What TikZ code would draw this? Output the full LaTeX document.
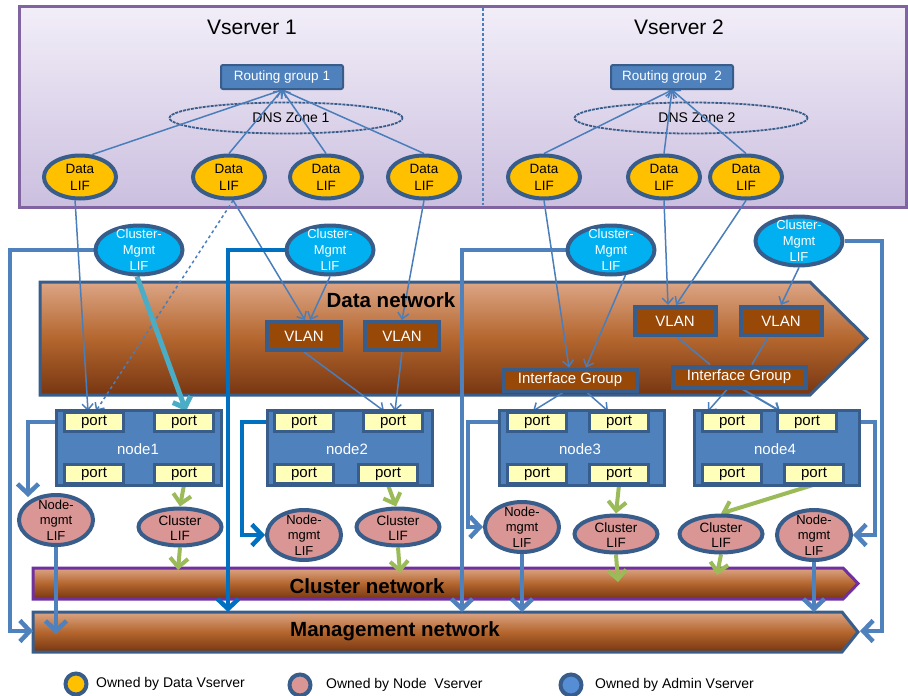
\documentclass[tikz,border=0pt]{standalone}
\usepackage{fontspec}
\setmainfont{Liberation Sans}
\usetikzlibrary{arrows.meta,shapes.geometric,calc}
\definecolor{bord}{HTML}{385D8A}
\definecolor{rgblue}{HTML}{4F81BD}
\definecolor{lny}{HTML}{4A7EBB}
\definecolor{dkblue}{HTML}{0070C0}
\definecolor{lifyel}{HTML}{FFC000}
\definecolor{cmcyan}{HTML}{00B0F0}
\definecolor{pinkc}{HTML}{D99694}
\definecolor{portyel}{HTML}{FFFFB9}
\definecolor{brownbox}{HTML}{984807}
\definecolor{cyanarr}{HTML}{4BACC6}
\definecolor{greenarr}{HTML}{9BBB59}
\definecolor{vsborder}{HTML}{8064A2}
\definecolor{vstop}{HTML}{F2EEF8}
\definecolor{vsbot}{HTML}{CBBFDF}
\definecolor{brtop}{HTML}{DCA585}
\definecolor{brmid}{HTML}{B4662E}
\definecolor{brbot}{HTML}{773611}
\definecolor{clpurple}{HTML}{7030A0}
\definecolor{legblue}{HTML}{558ED5}
\pgfdeclarelayer{bg}
\pgfdeclarelayer{lines}
\pgfsetlayers{bg,lines,main}
\newcommand\fsz[2]{\fontsize{#1}{#2}\selectfont}
\begin{document}
\begin{tikzpicture}[x=1pt,y=-1pt,
  lif/.style={ellipse,draw=bord,line width=4pt,inner sep=0pt},
  datalif/.style={lif,fill=lifyel,minimum width=72pt,minimum height=43pt},
  cmlif/.style={lif,fill=cmcyan,minimum width=87pt,minimum height=49pt},
  nmlif/.style={lif,fill=pinkc,minimum width=74pt,minimum height=50pt},
  cllif/.style={lif,fill=pinkc,minimum width=83pt,minimum height=37pt},
  liftxt/.style={align=center,inner sep=0pt},
  rgbox/.style={rectangle,rounded corners=2pt,fill=rgblue,draw=bord,line width=2pt,text=white,font=\fsz{13.5}{16},minimum width=122pt,minimum height=24pt,inner sep=0pt},
  dnszone/.style={ellipse,draw=bord,line width=1.8pt,dash pattern=on 3pt off 1pt,minimum width=233pt,minimum height=31pt,inner sep=0pt},
  brbox/.style={rectangle,fill=brownbox,draw=bord,line width=4pt,text=white,font=\fsz{15}{18},inner sep=0pt},
  nodebox/.style={rectangle,fill=rgblue,draw=bord,line width=3pt,minimum width=165pt,minimum height=75pt,inner sep=0pt},
  nodetxt/.style={text=white,font=\fsz{15}{18},inner sep=0pt},
  portbox/.style={rectangle,fill=portyel,draw=bord,line width=3pt,minimum width=59pt,minimum height=19pt,inner sep=0pt,font=\fsz{15}{18}},
  thinar/.style={draw=lny,line width=1.5pt,-{Straight Barb[length=6pt,width=11pt]}},
  thinln/.style={draw=lny,line width=1.5pt},
  mgar/.style={draw=rgblue,line width=4.5pt,-{Straight Barb[length=10pt,width=21pt]}},
  mgdk/.style={mgar,draw=dkblue},
  grar/.style={draw=greenarr,line width=4pt,-{Straight Barb[length=9pt,width=18pt]}},
  cyar/.style={draw=cyanarr,line width=5pt,-{Straight Barb[length=9pt,width=19pt]}},
  bartxt/.style={font=\bfseries\fsz{20.5}{24},inner sep=0pt},
  legcirc/.style={circle,draw=bord,line width=4pt,minimum size=21pt,inner sep=0pt},
  legtxt/.style={anchor=west,font=\fsz{14}{17},inner sep=0pt}
]
\useasboundingbox (0,0) rectangle (908,696);

% ---------- backgrounds ----------
\begin{pgfonlayer}{bg}
  \shade[top color=vstop,bottom color=vsbot] (19,6) rectangle (906,207);
  \draw[vsborder,line width=3pt] (19,6) rectangle (906,207);
  \draw[lny,line width=1.5pt,dash pattern=on 3pt off 2pt] (483,8) -- (483,205);
  \node[dnszone] (dns1) at (286,118) {};
  \node[dnszone] (dns2) at (691,118) {};
  \node[font=\fsz{14}{17},inner sep=0pt] (dns1t) at (291,118) {DNS Zone 1};
  \node[font=\fsz{14}{17},inner sep=0pt] (dns2t) at (697,118) {DNS Zone 2};
  % data network
  \shade[top color=brtop,bottom color=brbot,middle color=brmid]
    (40,282) -- (810,282) -- (867,338.5) -- (810,395) -- (40,395) -- cycle;
  \draw[bord,line width=3pt,line join=miter]
    (40,282) -- (810,282) -- (867,338.5) -- (810,395) -- (40,395) -- cycle;
  % cluster network
  \shade[top color=brtop,bottom color=brbot,middle color=brmid]
    (33,568) -- (843,568) -- (858,583.5) -- (843,599) -- (33,599) -- cycle;
  \draw[clpurple,line width=3pt,line join=miter]
    (33,568) -- (843,568) -- (858,583.5) -- (843,599) -- (33,599) -- cycle;
  % management network
  \shade[top color=brtop,bottom color=brbot,middle color=brmid]
    (33,612) -- (842,612) -- (858,632) -- (842,652) -- (33,652) -- cycle;
  \draw[bord,line width=3pt,line join=miter]
    (33,612) -- (842,612) -- (858,632) -- (842,652) -- (33,652) -- cycle;
\end{pgfonlayer}

\coordinate (mgL) at (33,631);
\coordinate (mgR) at (860,631);

% ---------- titles ----------
\node[font=\fsz{21}{25},inner sep=0pt] (vs1) at (252,27) {Vserver 1};
\node[font=\fsz{21}{25},inner sep=0pt] (vs2) at (679,27) {Vserver 2};

\node[rgbox] (rg1) at (282,77) {Routing group 1};
\node[rgbox] (rg2) at (672,77) {Routing group\ \ 2};

% ---------- data LIFs ----------
\foreach \n/\x in {d1/80,d2/229,d3/326,d4/424,d5/544,d6/664,d7/746}{
  \node[datalif] (\n) at (\x,177) {};
  \node[liftxt,font=\fsz{13.5}{17}] (\n t) at (\n) {Data\\LIF};
}

% ---------- cluster-mgmt LIFs ----------
\foreach \n/\x/\y in {cm1/139/250,cm2/330/250,cm3/611/250,cm4/799/241}{
  \node[cmlif] (\n) at (\x,\y) {};
  \node[liftxt,text=white,font=\fsz{13}{16}] (\n t) at (\n) {Cluster-\\Mgmt\\LIF};
}

% ---------- network labels ----------
\node[bartxt] (dnet) at (391,300) {Data network};
\node[bartxt] (cnet) at (367,586) {Cluster network};
\node[bartxt] (mnet) at (395,631) {Management network};

% ---------- VLANs / interface groups ----------
\node[brbox,minimum width=74pt,minimum height=28pt] (vl1) at (304,336) {VLAN};
\node[brbox,minimum width=74pt,minimum height=28pt] (vl2) at (402,336) {VLAN};
\node[brbox,minimum width=81pt,minimum height=28pt] (vl3) at (675,321) {VLAN};
\node[brbox,minimum width=81pt,minimum height=28pt] (vl4) at (781,321) {VLAN};
\node[brbox,minimum width=133pt,minimum height=21pt] (ig1) at (570,380) {Interface Group};
\node[brbox,minimum width=133pt,minimum height=21pt] (ig2) at (739,377) {Interface Group};

% ---------- cluster nodes ----------
\node[nodebox] (n1) at (139,448) {};
\node[nodebox] (n2) at (349.5,448) {};
\node[nodebox] (n3) at (582,448) {};
\node[nodebox] (n4) at (777,448) {};
\node[nodetxt] (n1t) at (138,449) {node1};
\node[nodetxt] (n2t) at (347,449) {node2};
\node[nodetxt] (n3t) at (580,449) {node3};
\node[nodetxt] (n4t) at (775,449) {node4};

\node[portbox] (n1a) at (94,422) {port};
\node[portbox] (n1b) at (184,422) {port};
\node[portbox] (n1c) at (94,474) {port};
\node[portbox] (n1d) at (184,474) {port};
\node[portbox] (n2a) at (304,422) {port};
\node[portbox] (n2b) at (393,422) {port};
\node[portbox] (n2c) at (304,474) {port};
\node[portbox] (n2d) at (388,474) {port};
\node[portbox] (n3a) at (537,422) {port};
\node[portbox] (n3b) at (619,422) {port};
\node[portbox] (n3c) at (537,474) {port};
\node[portbox] (n3d) at (619,474) {port};
\node[portbox] (n4a) at (732,422) {port};
\node[portbox] (n4b) at (807,422) {port};
\node[portbox] (n4c) at (732,474) {port};
\node[portbox] (n4d) at (814,474) {port};

% ---------- node-mgmt and cluster LIFs ----------
\foreach \n/\x/\y in {nm1/56/520,nm2/304/535,nm3/522/527,nm4/814/535}{
  \node[nmlif] (\n) at (\x,\y) {};
  \node[liftxt,font=\fsz{13}{15.5}] (\n t) at (\n) {Node-\\mgmt\\LIF};
}
\foreach \n/\x/\y in {cl1/180/527,cl2/398/527,cl3/616/534,cl4/721/534}{
  \node[cllif] (\n) at (\x,\y) {};
  \node[liftxt,font=\fsz{13.5}{15}] (\n t) at ($(\n)+(0,1)$) {Cluster\\LIF};
}

% ---------- legend ----------
\node[legcirc,fill=lifyel] (lg1) at (76,684) {};
\node[legcirc,fill=pinkc] (lg2) at (300,685) {};
\node[legcirc,fill=legblue] (lg3) at (571,685) {};
\node[legtxt] (lg1t) at (96,684) {Owned by Data Vserver};
\node[legtxt] (lg2t) at (326,685) {Owned by Node\ \ Vserver};
\node[legtxt] (lg3t) at (595,685) {Owned by Admin Vserver};

% ---------- connectors ----------
\begin{pgfonlayer}{lines}
  % data LIFs to routing groups
  \draw[thinar] (d1.62) -- (rg1.south);
  \draw[thinar] (d2.north) -- (rg1.south);
  \draw[thinar] (d3.north) -- (rg1.south);
  \draw[thinar] (d4.north) -- (rg1.south);
  \draw[thinar] (d5.north) -- (rg2.south);
  \draw[thinar] (d6.north) -- (rg2.south);
  \draw[thinar] (d7.north) -- (rg2.south);
  % data LIFs downwards
  \draw[thinar] (d1.258) -- ($(n1a.north)+(-6,0)$);
  \draw[thinar,dashed] (d2.280) -- ($(n1a.north)+(2,0)$);
  \draw[thinar] (d2.280) -- ($(vl1.north)+(1,0)$);
  \draw[thinar] (cm2.south) -- ($(vl1.north)+(6,0)$);
  \draw[thinar] (d4.south) -- (vl2.north);
  \draw[thinar] (vl1.south) -- ($(n2b.north)+(-9,0)$);
  \draw[thinar] (vl2.south) -- ($(n2b.north)+(2,0)$);
  \draw[thinar] (d5.south) -- ($(ig1.north)+(-1,0)$);
  \draw[thinar] (cm3.300) -- ($(ig1.north)+(16,0)$);
  \draw[thinar] (d6.south) -- ($(vl3.north)+(-7,0)$);
  \draw[thinar] (d7.south) -- ($(vl3.north)+(1,0)$);
  \draw[thinar] (cm4.south) -- (vl4.north);
  \draw[thinln] ($(vl3.south)+(2,0)$) -- ($(ig2.north)+(-29,0)$);
  \draw[thinln] ($(vl4.south)+(-13,0)$) -- ($(ig2.north)+(13,0)$);
  \draw[thinar] ($(ig1.south)+(-7,0)$) -- ($(n3a.north)+(-4,0)$);
  \draw[thinar] ($(ig1.south)+(17,0)$) -- ($(n3b.north)+(-11,0)$);
  \draw[thinar] ($(ig2.south)+(-12,0)$) -- ($(n4a.north)+(-24,0)$);
  \draw[thinar,line width=2pt] ($(ig2.south)+(4,0)$) -- ($(n4b.north)+(-27,0)$);
  % cluster-mgmt LIF to port
  \draw[cyar] ($(cm1.south)+(-2,0)$) -- ($(n1b.north)+(2,0)$);
  % management connections
  \draw[mgar] (cm1.west) -- (10,250) -- (10,631) -- (mgL);
  \draw[mgdk] (cm2.west) -- (228,250) -- (228,612);
  \draw[mgar] (cm3.west) -- (462,250) -- (462,612);
  \draw[mgar] (cm4.east) -- (882,241) -- (882,631) -- (mgR);
  \draw[mgar] (n1a.west) -- (28,422) -- (28,497);
  \draw[mgar] (nm1.south) -- (56,634);
  \draw[mgdk] (n2a.west) -- (242,422) -- (242,535) -- (nm2.west);
  \draw[mgar] (n3a.west) -- (468,422) -- (468,527) -- (nm3.west);
  \draw[mgar] (nm3.south) -- (522,612);
  \draw[mgar] (n4b.east) -- (875,422) -- (875,535) -- (nm4.east);
  \draw[mgar] (nm4.south) -- (814,612);
  % cluster connections
  \draw[grar] (n1d.south) -- (cl1.north);
  \draw[grar] (cl1.south) -- (178,570);
  \draw[grar] (n2d.south) -- ($(cl2.north)+(-2,0)$);
  \draw[grar] (cl2.south) -- (400,573);
  \draw[grar] (n3d.south) -- (cl3.north);
  \draw[grar] (cl3.south) -- (618,582);
  \draw[grar] ($(n4d.south)+(-1,0)$) -- (cl4.north);
  \draw[grar] (cl4.south) -- (717,575);
\end{pgfonlayer}
\end{tikzpicture}
\end{document}
